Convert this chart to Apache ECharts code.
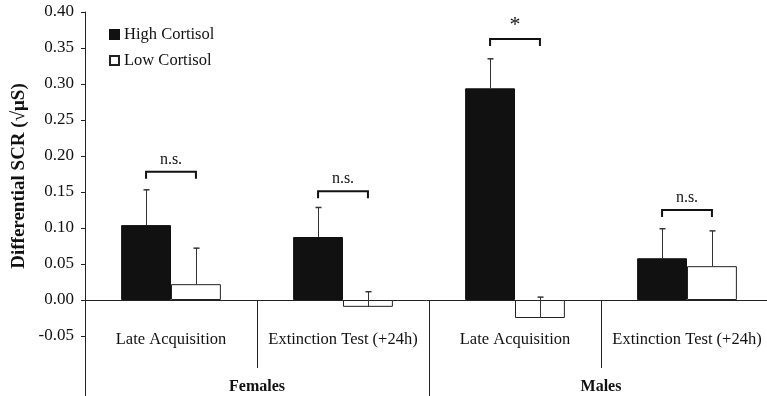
<!DOCTYPE html>
<html><head><meta charset="utf-8">
<script src="https://cdn.jsdelivr.net/npm/echarts@6/dist/echarts.min.js"></script>
<style>html,body{margin:0;padding:0;background:#fff}#c{width:767px;height:396px}</style>
</head><body><div id="c"></div>
<script>
const categories = ['Late Acquisition', 'Extinction Test (+24h)', 'Late Acquisition', 'Extinction Test (+24h)'];
const groups = ['Females', 'Males'];
const highCortisol = [0.104, 0.0875, 0.294, 0.058];
const highSE = [0.049, 0.041, 0.041, 0.041];
const lowCortisol = [0.022, -0.0095, -0.025, 0.047];
const lowSE = [0.050, 0.021, 0.029, 0.049];
const bracketY = [0.178, 0.151, 0.3625, 0.125];
const bracketText = ['n.s.', 'n.s.', '*', 'n.s.'];
const yTicks = [-0.05, 0, 0.05, 0.10, 0.15, 0.20, 0.25, 0.30, 0.35, 0.40];

const FONT = 'Liberation Serif';
const chart = echarts.init(document.getElementById('c'), null, {renderer: 'canvas'});

const errData = [];
highCortisol.forEach((v, i) => errData.push([i, v, v + highSE[i], -1]));
lowCortisol.forEach((v, i) => errData.push([i, v, v + lowSE[i], 1]));
const brData = bracketY.map((y, i) => [i, y, bracketText[i]]);

chart.setOption({
  animation: false,
  backgroundColor: '#fff',
  grid: {left: 85, right: -6, top: 12, bottom: -12, containLabel: false, outerBoundsMode: 'none'},
  legend: {
    orient: 'vertical', left: 104, top: 21, itemWidth: 9, itemHeight: 9, itemGap: 9,
    icon: 'rect',
    textStyle: {fontFamily: FONT, fontSize: 16.5, color: '#111'},
    data: ['High Cortisol', 'Low Cortisol']
  },
  graphic: [{
    type: 'text', x: 19, y: 176, rotation: Math.PI / 2,
    style: {text: 'Differential SCR (√μS)', fontFamily: FONT, fontWeight: 'bold', fontSize: 19,
      fill: '#111', align: 'center', verticalAlign: 'middle'}
  }],
  xAxis: [{
    type: 'category', data: categories,
    axisLine: {onZero: true, lineStyle: {color: '#222', width: 1}},
    axisTick: {show: true, length: 68, interval: 0, lineStyle: {color: '#222'}},
    axisLabel: {margin: -77, interval: 0, hideOverlap: false, fontFamily: FONT, fontSize: 16.5, color: '#111'},
    splitLine: {show: false}
  }, {
    type: 'category', data: groups, position: 'bottom',
    axisLine: {show: false, onZero: false},
    axisTick: {show: true, inside: true, length: 108, interval: 0, lineStyle: {color: '#222'}},
    axisLabel: {inside: true, margin: 13, interval: 0, fontFamily: FONT, fontWeight: 'bold', fontSize: 16, color: '#111'},
    splitLine: {show: false}
  }],
  yAxis: {
    type: 'value', min: -0.15, max: 0.40,
    axisLine: {show: true, lineStyle: {color: '#222'}},
    axisTick: {show: true, length: 4, customValues: yTicks, lineStyle: {color: '#222'}},
    axisLabel: {margin: 11, customValues: yTicks, fontFamily: FONT, fontSize: 17, color: '#111',
      formatter: v => v.toFixed(2)},
    splitLine: {show: false}
  },
  series: [{
    name: 'High Cortisol', type: 'bar', data: highCortisol, barWidth: '29%', barGap: '0%',
    itemStyle: {color: '#111', borderColor: '#111', borderWidth: 1}
  }, {
    name: 'Low Cortisol', type: 'bar', data: lowCortisol, barWidth: '29%', barGap: '0%',
    itemStyle: {color: '#fff', borderColor: '#222', borderWidth: 1}
  }, {
    type: 'custom', data: errData, z: 5,
    renderItem: (params, api) => {
      const ci = api.value(0), lo = api.value(1), hi = api.value(2), side = api.value(3);
      const bw = api.size([1, 0])[0];
      const off = side * bw * 0.145;
      const p0 = api.coord([ci, lo]), p1 = api.coord([ci, hi]);
      const x = Math.round(p0[0] + off) + 0.5;
      return {type: 'group', children: [
        {type: 'line', shape: {x1: x, y1: p0[1], x2: x, y2: p1[1]}, style: {stroke: '#333', lineWidth: 1}},
        {type: 'line', shape: {x1: x - 3, y1: p1[1], x2: x + 3, y2: p1[1]}, style: {stroke: '#333', lineWidth: 1.5}}
      ]};
    }
  }, {
    type: 'custom', data: brData, z: 5,
    renderItem: (params, api) => {
      const ci = api.value(0), y = api.value(1);
      const txt = bracketText[params.dataIndex];
      const bw = api.size([1, 0])[0];
      const off = bw * 0.145;
      const p = api.coord([ci, y]);
      const xl = p[0] - off, xr = p[0] + off;
      const isStar = txt === '*';
      return {type: 'group', children: [
        {type: 'polyline', shape: {points: [[xl, p[1] + 7], [xl, p[1]], [xr, p[1]], [xr, p[1] + 7]]},
          style: {stroke: '#111', lineWidth: 2, fill: null}},
        {type: 'text', x: p[0], y: isStar ? p[1] - 3 : p[1] - 4,
          style: {text: txt, fontFamily: FONT, fontSize: isStar ? 22 : 16, fill: '#111',
            align: 'center', verticalAlign: 'bottom'}}
      ]};
    }
  }]
});
</script></body></html>
